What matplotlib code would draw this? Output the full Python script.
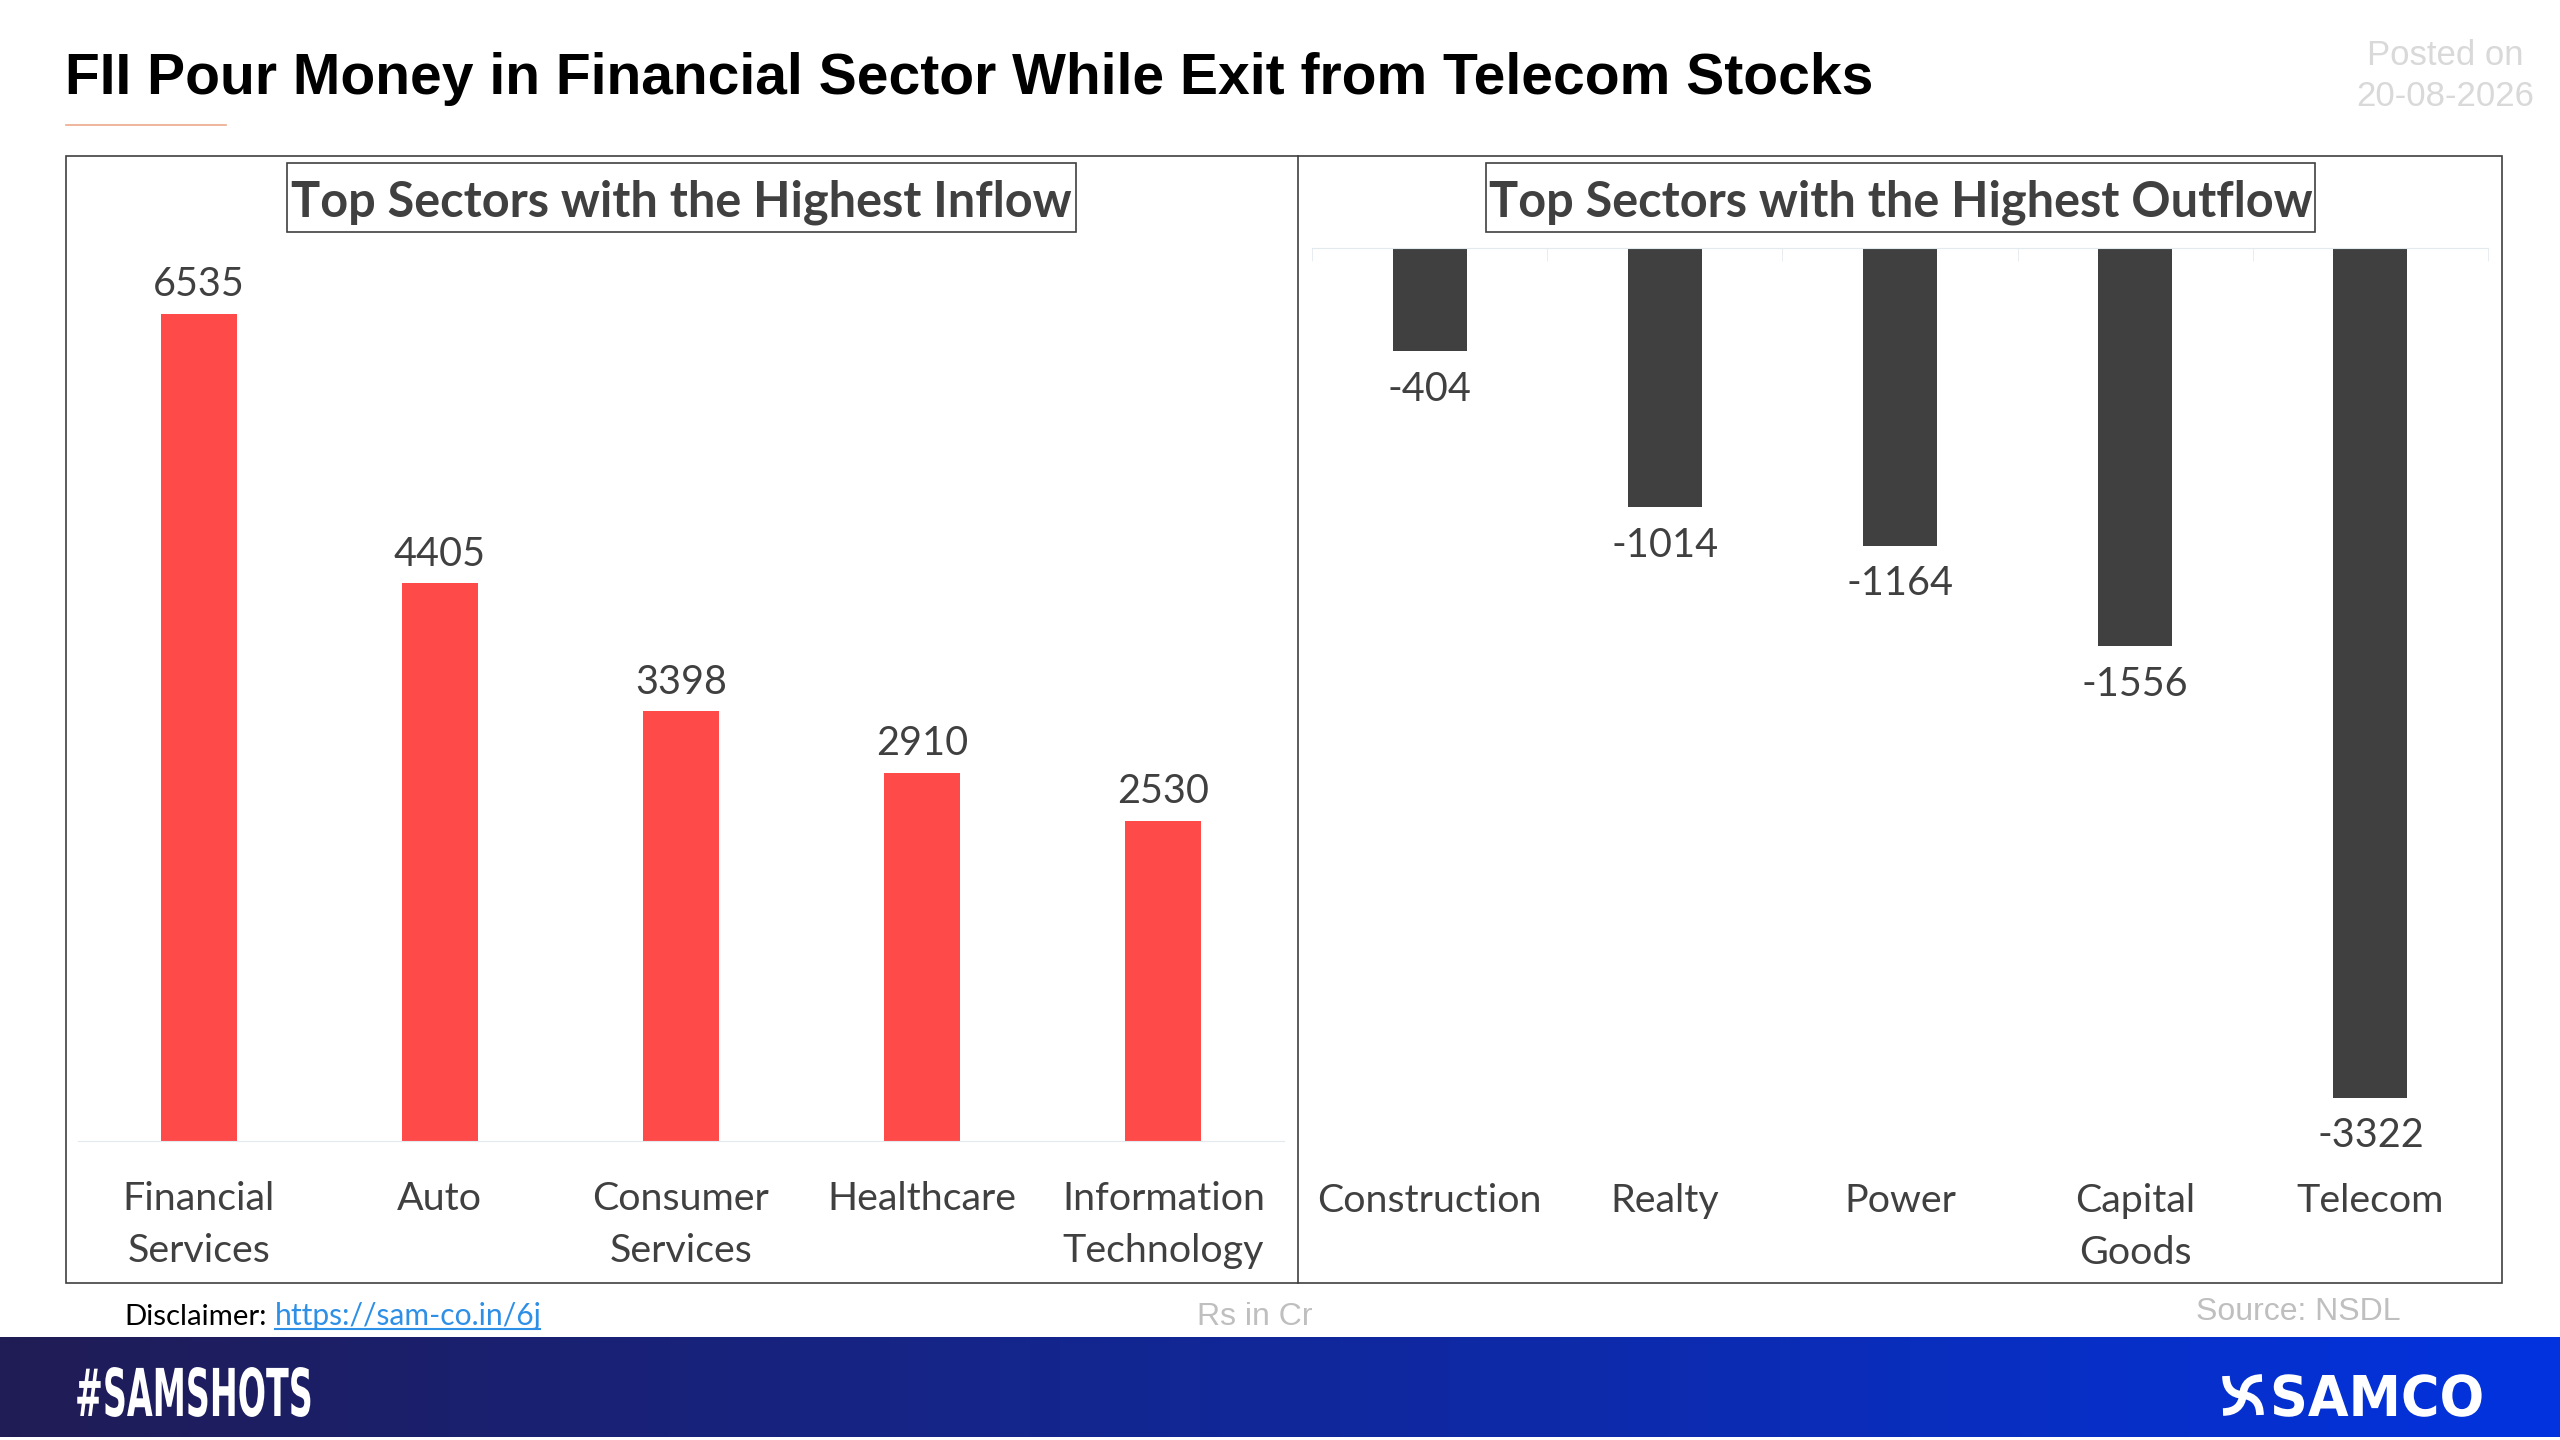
import numpy as np
import matplotlib
matplotlib.use('Agg')
import matplotlib.pyplot as plt
from matplotlib.colors import LinearSegmentedColormap
from matplotlib.patches import PathPatch, Rectangle
from matplotlib.path import Path
from matplotlib.patheffects import AbstractPathEffect
from matplotlib.transforms import Affine2D

W, H = 2560, 1440

inflow_sectors = ['Financial\nServices', 'Auto', 'Consumer\nServices', 'Healthcare', 'Information\nTechnology']
inflow_values = [6535, 4405, 3398, 2910, 2530]
outflow_sectors = ['Construction', 'Realty', 'Power', 'Capital\nGoods', 'Telecom']
outflow_values = [-404, -1014, -1164, -1556, -3322]

RED = '#ff4a4a'
DARK = '#404040'
LIGHT = '#e3eaee'
BODY = 'Lato'
HEAD = 'Liberation Sans'


class Squeeze(AbstractPathEffect):
    # no condensed font installed, so narrow the glyphs sideways around x0
    def __init__(self, sx, x0):
        super().__init__()
        self.sx = sx
        self.x0 = x0

    def draw_path(self, renderer, gc, tpath, affine, rgbFace=None):
        squeeze = Affine2D().translate(-self.x0, 0).scale(self.sx, 1).translate(self.x0, 0)
        renderer.draw_path(gc, tpath, affine + squeeze, rgbFace)


fig = plt.figure(figsize=(W / 100, H / 100), dpi=100, facecolor='white')


def px_axes(x0, y0, x1, y1):
    # pixel box, y measured from the top of the image
    return fig.add_axes([x0 / W, 1 - y1 / H, (x1 - x0) / W, (y1 - y0) / H])


# background layer in pixel coordinates
bg = fig.add_axes([0, 0, 1, 1])
bg.set_xlim(0, W)
bg.set_ylim(H, 0)
bg.axis('off')

# footer band
cmap = LinearSegmentedColormap.from_list('band', ['#201c55', '#0233df'])
bg.imshow(np.linspace(0, 1, 512).reshape(1, -1), cmap=cmap, aspect='auto', extent=[0, W, 1437, 1337])
bg.set_xlim(0, W)
bg.set_ylim(H, 0)

# frame, divider, title rule
bg.add_patch(Rectangle((66, 155.5), 2436, 1127.5, fill=False, ec=DARK, lw=1.2))
bg.plot([1298, 1298], [155.5, 1283], color=DARK, lw=1.2)
bg.plot([66, 226], [125, 125], color='#eda98c', lw=1.2)

# subtitle boxes
bg.add_patch(Rectangle((287, 163), 789, 69, fill=False, ec=DARK, lw=1.2))
bg.add_patch(Rectangle((1486, 163), 829, 69, fill=False, ec=DARK, lw=1.2))
bg.text(681.5, 202, 'Top Sectors with the Highest Inflow', family=BODY, weight='bold', fontsize=35,
        color=DARK, ha='center', va='center')
bg.text(1900.5, 202, 'Top Sectors with the Highest Outflow', family=BODY, weight='bold', fontsize=35,
        color=DARK, ha='center', va='center')

# headline
bg.text(65, 94, 'FII Pour Money in Financial Sector While Exit from Telecom Stocks', family=HEAD,
        weight='bold', fontsize=41.05, color='black', ha='left', va='baseline')
bg.text(2445, 65, 'Posted on', family=HEAD, fontsize=25, color='#d9d9d9', ha='center', va='baseline')
bg.text(2445, 106, '20-08-2026', family=HEAD, fontsize=25, color='#d9d9d9', ha='center', va='baseline')

# footnotes
bg.text(124, 1325, 'Disclaimer:', family=BODY, fontsize=21.2, color='black', ha='left', va='baseline')
bg.text(275, 1325, 'https://sam-co.in/6j', family=BODY, fontsize=21.6, color='#2e8fe6', ha='left', va='baseline')
bg.plot([275, 540], [1329, 1329], color='#2e8fe6', lw=1.5)
bg.text(1197, 1325, 'Rs in Cr', family=HEAD, fontsize=23, color='#bfbfbf', ha='left', va='baseline')
bg.text(2196, 1320, 'Source: NSDL', family=HEAD, fontsize=23, color='#bfbfbf', ha='left', va='baseline')

# footer brand
bg.text(75, 1416, '#SAMSHOTS', family='DejaVu Sans', weight='bold', fontsize=47.5, color='white',
        ha='left', va='baseline', path_effects=[Squeeze(0.505, 75)])
bg.text(2270, 1416, 'SAMCO', family='DejaVu Sans', weight='bold', fontsize=40.5, color='white',
        ha='left', va='baseline', path_effects=[Squeeze(0.935, 2270)])
for arm in [[(2226, 1376), (2226, 1394), (2243, 1395)],
            [(2262, 1378), (2244, 1378), (2243, 1395)],
            [(2260, 1415), (2260, 1397), (2243, 1395)],
            [(2223, 1412), (2241, 1412), (2243, 1395)]]:
    bg.add_patch(PathPatch(Path(arm, [Path.MOVETO, Path.CURVE3, Path.CURVE3]), fill=False, ec='white',
                           lw=5.5, capstyle='butt'))

# inflow chart
ax1 = px_axes(78, 250, 1284, 1141)
ax1.set_facecolor('none')
bars1 = ax1.bar(range(5), inflow_values, width=0.315, color=RED)
ax1.set_xlim(-0.5, 4.5)
ax1.set_ylim(0, 7040)
ax1.set_xticks(range(5), inflow_sectors)
ax1.set_yticks([])
ax1.tick_params(axis='x', length=0, pad=29, labelsize=28.4, labelcolor=DARK)
for lab in ax1.get_xticklabels():
    lab.set_family(BODY)
    lab.set_linespacing(1.55)
for side in ['top', 'left', 'right']:
    ax1.spines[side].set_visible(False)
ax1.spines['bottom'].set_color(LIGHT)
ax1.bar_label(bars1, fontsize=28.5, color=DARK, family=BODY, padding=7.5)

# outflow chart
ax2 = px_axes(1312, 248, 2488, 1141)
ax2.set_facecolor('none')
bars2 = ax2.bar(range(5), outflow_values, width=0.315, color=DARK)
ax2.set_xlim(-0.5, 4.5)
ax2.set_ylim(-3490, 0)
ax2.set_xticks(range(5), outflow_sectors)
ax2.set_xticks(np.arange(6) - 0.5, minor=True)
ax2.set_yticks([])
ax2.tick_params(axis='x', which='major', length=0, pad=30, labelsize=28.4, labelcolor=DARK)
ax2.tick_params(axis='x', which='minor', bottom=False, top=True, direction='in', length=9, color=LIGHT)
for lab in ax2.get_xticklabels():
    lab.set_family(BODY)
    lab.set_linespacing(1.55)
for side in ['bottom', 'left', 'right']:
    ax2.spines[side].set_visible(False)
ax2.spines['top'].set_color(LIGHT)
ax2.bar_label(bars2, fontsize=28.5, color=DARK, family=BODY, padding=14)

fig.savefig('out.png', dpi=100)
